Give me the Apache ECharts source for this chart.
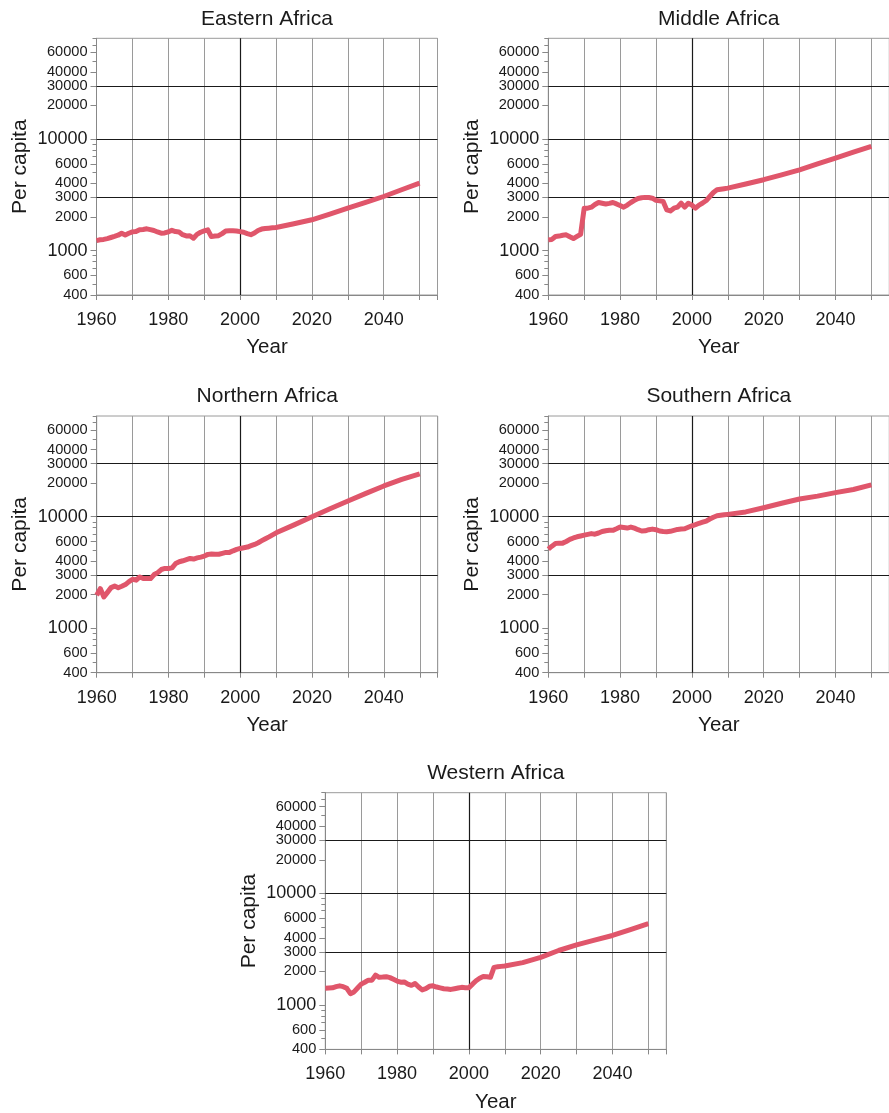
<!DOCTYPE html>
<html><head><meta charset="utf-8">
<script src="https://cdn.jsdelivr.net/npm/echarts@6/dist/echarts.min.js"></script>
<style>html,body{margin:0;padding:0;background:#fff}#c{width:889px;height:1113px}</style>
</head><body><div id="c"></div>
<script>
// ---------- data ----------
const years = [1960,1961,1962,1963,1964,1965,1966,1967,1968,1969,
  1970,1971,1972,1973,1974,1975,1976,1977,1978,1979,
  1980,1981,1982,1983,1984,1985,1986,1987,1988,1989,
  1990,1991,1992,1993,1994,1995,1996,1997,1998,1999,
  2000,2001,2002,2003,2004,2005,2006,2007,2008,2009,
  2010,2015,2020,2025,2030,2035,2040,2045,2050];

const easternAfrica = [1230,1250,1260,1282,1310,1340,1374,1432,1380,1430,
  1472,1480,1535,1545,1568,1540,1515,1470,1432,1440,
  1472,1520,1480,1470,1390,1355,1360,1290,1400,1460,
  1500,1535,1335,1350,1360,1420,1500,1510,1505,1500,
  1480,1460,1420,1390,1440,1515,1560,1580,1590,1600,
  1610,1740,1890,2125,2400,2700,3055,3510,4030];

const middleAfrica = [1248,1260,1337,1350,1374,1385,1330,1282,1340,1400,
  2400,2400,2450,2590,2700,2660,2620,2650,2700,2620,
  2535,2450,2560,2700,2820,2930,2980,3000,2990,2950,
  2820,2790,2760,2317,2270,2400,2450,2660,2450,2660,
  2560,2400,2560,2670,2810,3055,3320,3510,3550,3590,
  3630,3950,4320,4780,5300,5980,6750,7620,8590];

const northernAfrica = [1977,2270,1910,2100,2316,2390,2310,2380,2465,2620,
  2753,2700,2886,2790,2790,2790,3033,3150,3365,3440,
  3440,3480,3810,3950,4030,4130,4230,4180,4280,4350,
  4440,4600,4640,4620,4610,4700,4790,4790,4950,5100,
  5200,5280,5350,5500,5650,5850,6100,6350,6600,6880,
  7180,8450,10000,11800,13840,16200,18880,21600,24200];

const southernAfrica = [5130,5450,5750,5800,5800,6000,6260,6450,6610,6720,
  6840,6950,7060,6980,7150,7380,7500,7580,7550,7800,
  8080,8000,7920,8080,7900,7650,7450,7480,7650,7750,
  7650,7450,7380,7350,7400,7550,7700,7750,7800,8050,
  8300,8500,8740,8950,9150,9550,9900,10200,10300,10400,
  10500,11050,12050,13200,14420,15300,16450,17560,19280];

const westernAfrica = [1416,1420,1425,1460,1486,1460,1410,1265,1310,1420,
  1538,1600,1670,1670,1855,1770,1780,1795,1760,1700,
  1640,1600,1610,1540,1500,1560,1450,1365,1400,1470,
  1486,1450,1425,1400,1390,1380,1400,1420,1440,1430,
  1425,1538,1650,1738,1800,1790,1770,2175,2200,2220,
  2240,2400,2675,3080,3460,3820,4200,4750,5360];

const regionNames = ['Eastern Africa','Middle Africa','Northern Africa','Southern Africa','Western Africa'];
const regionValues = [easternAfrica, middleAfrica, northernAfrica, southernAfrica, westernAfrica];

const yLabelTicks = [400,600,1000,2000,3000,4000,6000,10000,20000,30000,40000,60000];
const yMinorTicks = [500,700,800,900,5000,7000,8000,9000,50000,70000,80000];
const yBigLabels = [1000,10000];
const xLabelYears = [1960,1980,2000,2020,2040];
const refLinesY = [3000,10000,30000];
const refLineX = 2000;

// ---------- layout ----------
const panels = [
  {left:96.5, top:38.3, titleTop:9},
  {left:548.3, top:38.3, titleTop:9},
  {left:96.7, top:416, titleTop:386},
  {left:548.3, top:416, titleTop:386},
  {left:325.3, top:792.7, titleTop:762.5}
];
const PW = 341, PH = 256.7;
const FONT = '"Liberation Sans", Arial, Helvetica, sans-serif';
const TXT = '#1a1a1a';
const LINE = '#e0566b';
const GRID_GRAY = '#9a9a9a';
const AXIS_GRAY = '#888888';

const measure = (() => {
  const c = document.createElement('canvas').getContext('2d');
  return (t, size) => { c.font = size + 'px ' + FONT; return c.measureText(t).width; };
})();

const grid = [], xAxis = [], yAxis = [], series = [], title = [];
panels.forEach((p, i) => {
  grid.push({left:p.left, top:p.top, width:PW, height:PH, show:true,
    borderColor:GRID_GRAY, borderWidth:1, backgroundColor:'transparent',
    containLabel:false, outerBoundsMode:'none'});
  const tw = measure(regionNames[i], 21);
  title.push({text:regionNames[i], left:p.left + PW/2 - tw/2, top:p.titleTop, padding:0,
    textStyle:{fontFamily:FONT, fontSize:21, fontWeight:'normal', color:TXT}});
  xAxis.push({type:'value', gridIndex:i, min:1960, max:2055, interval:10,
    name:'Year', nameLocation:'middle', nameGap:42,
    nameTextStyle:{fontFamily:FONT, fontSize:20.5, color:TXT},
    axisLine:{show:true, onZero:false, lineStyle:{color:AXIS_GRAY, width:1}},
    axisTick:{show:true, length:5, lineStyle:{color:AXIS_GRAY}},
    axisLabel:{show:true, margin:16, fontFamily:FONT, fontSize:18, color:TXT,
      formatter: v => xLabelYears.indexOf(Math.round(v)) >= 0 ? String(Math.round(v)) : ''},
    splitLine:{show:true, lineStyle:{color:GRID_GRAY, width:1}}
  });
});
panels.forEach((p, i) => {
  yAxis.push({type:'log', logBase:10, gridIndex:i, min:400, max:80000, position:'left',
    name:'Per capita', nameLocation:'middle', nameGap:66,
    nameTextStyle:{fontFamily:FONT, fontSize:21, color:TXT},
    axisLine:{show:true, lineStyle:{color:AXIS_GRAY, width:1}},
    axisTick:{show:true, length:6, lineStyle:{color:AXIS_GRAY}, customValues:yLabelTicks},
    axisLabel:{show:true, margin:9, fontFamily:FONT, color:TXT, customValues:yLabelTicks,
      formatter: v => { const r = Math.round(v); return yBigLabels.indexOf(r) >= 0 ? '{b|' + r + '}' : '{s|' + r + '}'; },
      rich:{b:{fontFamily:FONT, fontSize:18, color:TXT}, s:{fontFamily:FONT, fontSize:14.6, color:TXT}}},
    splitLine:{show:false}
  });
});
panels.forEach((p, i) => {
  yAxis.push({type:'log', logBase:10, gridIndex:i, min:400, max:80000, position:'left', offset:0,
    axisLine:{show:false},
    axisTick:{show:true, length:4, lineStyle:{color:AXIS_GRAY}, customValues:yMinorTicks},
    axisLabel:{show:false},
    splitLine:{show:false}
  });
});
panels.forEach((p, i) => {
  const vals = regionValues[i];
  series.push({type:'line', xAxisIndex:i, yAxisIndex:i,
    data: years.map((y, k) => [y, vals[k]]),
    showSymbol:false, symbol:'none', smooth:false, clip:true,
    lineStyle:{color:LINE, width:5, cap:'butt', join:'round'},
    z:3,
    markLine:{silent:true, symbol:['none','none'], z:1, animation:false,
      label:{show:false},
      lineStyle:{color:TXT, width:1.2, type:'solid'},
      emphasis:{disabled:true},
      data: refLinesY.map(v => ({yAxis:v})).concat([{xAxis:refLineX}])}
  });
});

const chart = echarts.init(document.getElementById('c'), null, {renderer:'canvas'});
chart.setOption({animation:false, backgroundColor:'#ffffff', title, grid, xAxis, yAxis, series});
</script></body></html>
